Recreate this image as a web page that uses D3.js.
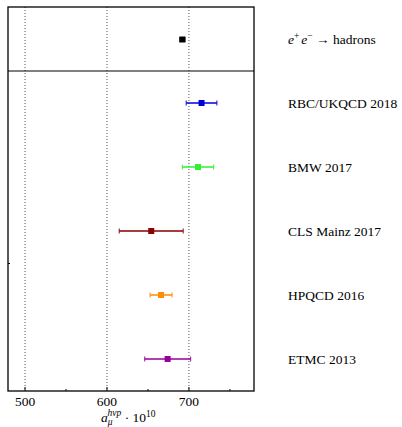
<!DOCTYPE html>
<html>
<head>
<meta charset="utf-8">
<script src="https://cdn.jsdelivr.net/npm/d3@7"></script>
<style>
  body { margin: 0; background: #fff; }
  text { font-family: "Liberation Serif", "DejaVu Serif", serif; fill: #000; }
</style>
</head>
<body>
<div id="chart"></div>
<script>
// reference value (upper panel)
var refLabel = "e+e-";
var refValue = 692;
var refError = 3;

// lattice results (lower panel)
var labels = ["RBC/UKQCD 2018", "BMW 2017", "CLS Mainz 2017", "HPQCD 2016", "ETMC 2013"];
var values = [715.4, 711.1, 654, 666, 674];
var errors = [18.7, 19.0, 39, 13.4, 28];
var colors = ["#0000dd", "#33ee33", "#8b0000", "#ff8c00", "#990099"];

var majorTicks = [500, 600, 700];
var minorTicks = [550, 650, 750];

var width = 402, height = 427;
var plotL = 8, plotR = 254, plotT = 7, divider = 71, plotB = 391;

var svg = d3.select("#chart").append("svg")
    .attr("width", width)
    .attr("height", height);

var x = d3.scaleLinear().domain([479.2, 779.4]).range([plotL, plotR]);
var yTop = d3.scaleBand().domain([refLabel]).range([plotT, divider]);
var yBot = d3.scaleBand().domain(labels).range([divider, plotB]);

// dotted grid lines
svg.selectAll(".grid")
    .data(majorTicks)
    .enter().append("line")
    .attr("x1", d => x(d)).attr("x2", d => x(d))
    .attr("y1", plotT).attr("y2", plotB)
    .style("stroke", "#555")
    .style("stroke-width", 1)
    .style("stroke-dasharray", "1,2");

// tick marks on the bottom axis (pointing inward)
svg.selectAll(".major")
    .data(majorTicks)
    .enter().append("line")
    .attr("x1", d => x(d)).attr("x2", d => x(d))
    .attr("y1", plotB).attr("y2", plotB - 4)
    .style("stroke", "#000").style("stroke-width", 1);
svg.selectAll(".minor")
    .data(minorTicks)
    .enter().append("line")
    .attr("x1", d => x(d)).attr("x2", d => x(d))
    .attr("y1", plotB).attr("y2", plotB - 2)
    .style("stroke", "#000").style("stroke-width", 1);

// small tick on left axis
svg.append("line")
    .attr("x1", plotL).attr("x2", plotL + 2)
    .attr("y1", 263.5).attr("y2", 263.5)
    .style("stroke", "#000").style("stroke-width", 1);

// tick labels
svg.selectAll(".tlabel")
    .data(majorTicks)
    .enter().append("text")
    .attr("x", d => x(d))
    .attr("y", 406)
    .attr("text-anchor", "middle")
    .style("font-size", "13.5px")
    .text(d => d);

// axis label a_mu^hvp . 10^10
var axLabel = svg.append("text")
    .attr("x", 101)
    .attr("y", 421.5)
    .style("font-size", "13.5px");
axLabel.append("tspan").style("font-style", "italic").text("a");
axLabel.append("tspan").attr("dy", 3).style("font-size", "9.5px").style("font-style", "italic").text("μ");
axLabel.append("tspan").attr("dx", -5).attr("dy", -8.5).style("font-size", "9.5px").style("font-style", "italic").text("hvp");
axLabel.append("tspan").attr("dy", 5.5).text(" · 10");
axLabel.append("tspan").attr("dy", -5).style("font-size", "9.5px").text("10");

function drawPoint(cy, v, e, color) {
    var g = svg.append("g");
    g.append("line")
        .attr("x1", x(v - e)).attr("x2", x(v + e))
        .attr("y1", cy).attr("y2", cy)
        .style("stroke", color).style("stroke-width", 2).style("opacity", 0.75);
    [v - e, v + e].forEach(function(end) {
        g.append("line")
            .attr("x1", x(end)).attr("x2", x(end))
            .attr("y1", cy - 2.5).attr("y2", cy + 2.5)
            .style("stroke", color).style("stroke-width", 1.2).style("opacity", 0.8);
    });
    g.append("rect")
        .attr("x", x(v) - 3).attr("y", cy - 3)
        .attr("width", 6).attr("height", 6)
        .style("fill", color);
}

// upper panel point
drawPoint(yTop(refLabel) + yTop.bandwidth() / 2 + 0.5, refValue, refError, "#000");

// lower panel points
labels.forEach(function(l, i) {
    drawPoint(yBot(l) + yBot.bandwidth() / 2, values[i], errors[i], colors[i]);
});

// frame and divider
svg.append("rect")
    .attr("x", plotL).attr("y", plotT)
    .attr("width", plotR - plotL).attr("height", plotB - plotT)
    .style("fill", "none").style("stroke", "#000").style("stroke-width", 1.3);
svg.append("line")
    .attr("x1", plotL).attr("x2", plotR)
    .attr("y1", divider).attr("y2", divider)
    .style("stroke", "#000").style("stroke-width", 1.2);

// row labels
var eeText = svg.append("text")
    .attr("x", 288)
    .attr("y", 43.5)
    .style("font-size", "13.5px");
eeText.append("tspan").style("font-style", "italic").text("e");
eeText.append("tspan").attr("dy", -5).style("font-size", "9.5px").text("+");
eeText.append("tspan").attr("dy", 5).attr("dx", 2).style("font-style", "italic").text("e");
eeText.append("tspan").attr("dy", -5).style("font-size", "9.5px").text("−");
eeText.append("tspan").attr("dy", 5).text(" → hadrons");

svg.selectAll(".rowlabel")
    .data(labels)
    .enter().append("text")
    .attr("x", 288)
    .attr("y", d => yBot(d) + yBot.bandwidth() / 2 + 4.5)
    .style("font-size", "13.5px")
    .text(d => d);
</script>
</body>
</html>
